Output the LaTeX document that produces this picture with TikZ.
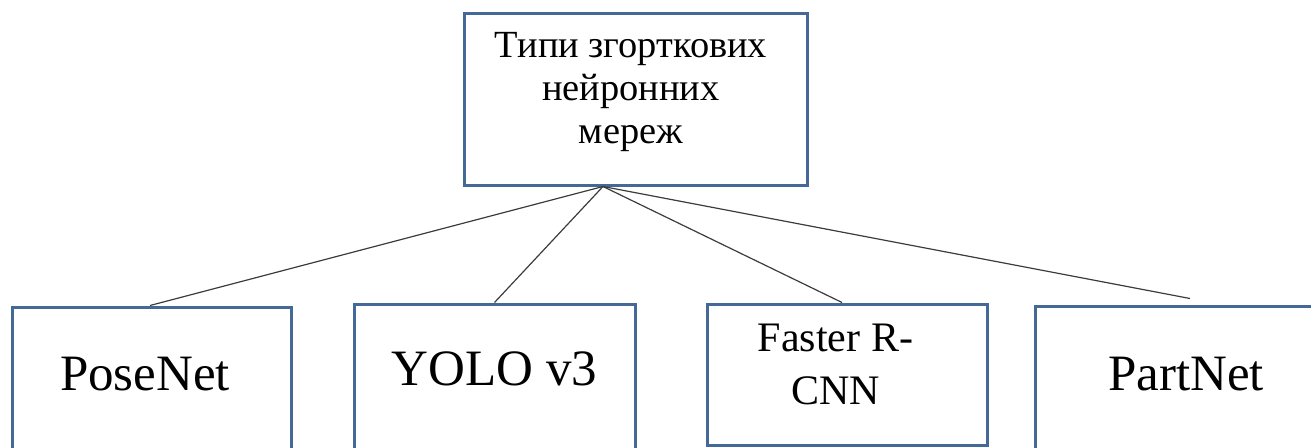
\documentclass[tikz,border=0pt]{standalone}
\usepackage{fontspec}
\setmainfont{Liberation Serif}
\definecolor{boxblue}{RGB}{68,104,152}
\definecolor{linkgray}{RGB}{60,60,60}
\begin{document}
\begin{tikzpicture}[x=1pt,y=-1pt,
  box/.style={draw=boxblue, line width=3pt, rectangle, inner sep=0pt},
  link/.style={draw=linkgray, line width=1.2pt},
  bigtxt/.style={inner sep=0pt, anchor=base, font=\fontsize{51}{60}\selectfont},
  midtxt/.style={inner sep=0pt, align=center, font=\fontsize{42}{53}\selectfont},
  toptxt/.style={inner sep=0pt, align=center, font=\fontsize{38.4}{43}\selectfont}]
\useasboundingbox (0,0) rectangle (1311,447);
\clip (0,0) rectangle (1311,447);
% boxes
\node[box, minimum width=343pt, minimum height=171.5pt] (top) at (635.5,99.25) {};
\node[box, minimum width=279pt, minimum height=148pt] (b1) at (151.5,381) {};
\node[box, minimum width=281pt, minimum height=151pt] (b2) at (494.5,379.5) {};
\node[box, minimum width=280pt, minimum height=141pt] (b3) at (847,374.5) {};
\node[box, minimum width=285pt, minimum height=149pt] (b4) at (1177.5,380.5) {};
% texts
\node[toptxt] (ttop) at (631,92.5) {Типи згорткових\\нейронних\\мереж};
\node[bigtxt] (t1) at (145,390) {PoseNet};
\node[bigtxt] (t2) at (494.5,385) {YOLO v3};
\node[midtxt] (t3) at (835.5,364.5) {Faster R-\\CNN};
\node[bigtxt] (t4) at (1186,390) {PartNet};
% connectors
\coordinate (apex) at ([xshift=-32.5pt]top.south);
\draw[link] (apex) -- ([xshift=-1.5pt]b1.north);
\draw[link] (apex) -- (b2.north);
\draw[link] (apex) -- ([xshift=-5pt]b3.north);
\draw[link] (apex) -- ([shift={(12.5,-6)}]b4.north);
\end{tikzpicture}
\end{document}
